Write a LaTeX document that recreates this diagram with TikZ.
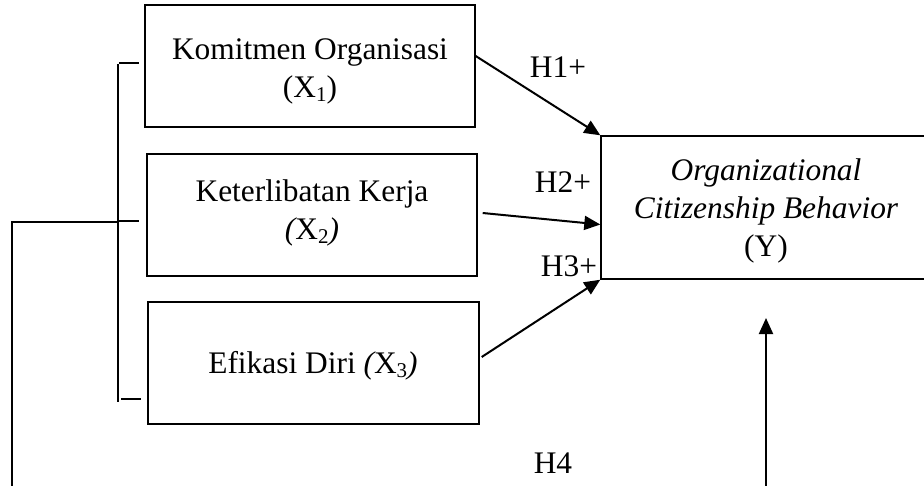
\documentclass[tikz,border=0pt]{standalone}
\usepackage{fontspec}
\setmainfont{Liberation Serif}
\usetikzlibrary{arrows.meta}
\newcommand{\mysub}[1]{\raisebox{-0.14em}{\fontsize{21}{21}\selectfont #1}}
\tikzset{
  box/.style={draw, line width=1.4pt, inner sep=0pt, align=center},
  txt/.style={inner sep=0pt, font=\fontsize{31.4}{38}\selectfont},
  lab/.style={inner sep=0pt, font=\fontsize{31.4}{38}\selectfont},
  conn/.style={line width=2pt, -{Triangle[length=16pt,width=14pt]}},
  brk/.style={line width=2pt},
}
\begin{document}
\begin{tikzpicture}[x=1pt,y=-1pt]
\clip (0,0) rectangle (924,485);
\useasboundingbox (0,0) rectangle (924,485);
\fill[white] (0,0) rectangle (924,485);
% boxes
\node[box, minimum width=330pt, minimum height=122pt] (box1) at (310,66) {};
\node[box, minimum width=330pt, minimum height=122pt] (box2) at (312,215) {};
\node[box, minimum width=331pt, minimum height=122pt] (box3) at (313.5,363) {};
\node[box, minimum width=330pt, minimum height=143pt] (boxY) at (766,207.5) {};
% box texts
\node[txt, align=center, anchor=base] (t1) at (box1.center |- 0,97) {Komitmen Organisasi\\(X\mysub{1})};
\node[txt, align=center, anchor=base] (t2) at (box2.center |- 0,239) {Keterlibatan Kerja\\{\itshape (}X\mysub{2}{\itshape )}};
\node[txt, anchor=base] (t3) at (313,373) {Efikasi Diri {\itshape (}X\mysub{3}{\itshape )}};
\node[txt, align=center, anchor=base] (tY) at (766,256) {\itshape Organizational\\\itshape Citizenship Behavior\\(Y)};
% bracket
\coordinate (bt) at (118,64);
\coordinate (bb) at (118,402);
\coordinate (bm) at (118,222);
\coordinate (k1a) at (119,63);  \coordinate (k1b) at (139,63);
\coordinate (k2a) at (119,221); \coordinate (k2b) at (139,221);
\coordinate (k3a) at (121,399); \coordinate (k3b) at (141,399);
\coordinate (lc) at (12,222);
\coordinate (ld) at (12,490);
\draw[brk] (bt) -- (bb);
\draw[brk] (k1a) -- (k1b);
\draw[brk] (k2a) -- (k2b);
\draw[brk] (k3a) -- (k3b);
\draw[brk] (bm) -- (lc) -- (ld);
% arrows
\draw[conn] ([yshift=10pt]box1.east) -- (boxY.north west);
\draw[conn] ([xshift=5pt,yshift=2pt]box2.east) -- ([yshift=-17pt]boxY.west);
\draw[conn] ([xshift=2pt,yshift=6pt]box3.east) -- (boxY.south west);
\coordinate (h4b) at (766,490);
\coordinate (h4t) at (766,318);
\draw[conn] (h4b) -- (h4t);
% labels
\node[lab] (h1) at (558,67) {H1+};
\node[lab] (h2) at (563,182) {H2+};
\node[lab] (h3) at (569,266) {H3+};
\node[lab] (h4) at (553,463) {H4};
\end{tikzpicture}
\end{document}
